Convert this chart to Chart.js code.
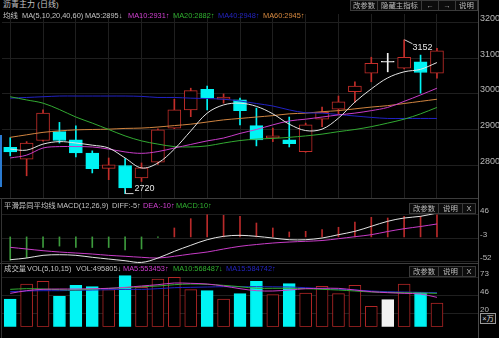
<!DOCTYPE html>
<html>
<head>
<meta charset="utf-8">
<script src="https://cdn.jsdelivr.net/npm/chart.js@4.4.1/dist/chart.umd.min.js"></script>
<style>
body { margin: 0; width: 499px; height: 338px; background: #000; position: relative; overflow: hidden;
  font-family: "Liberation Sans", "Noto Sans CJK SC", sans-serif; color: #c4c4c4; }
canvas { position: absolute; left: 0; }
.t { position: absolute; font-size: 7.4px; line-height: 10px; white-space: nowrap; }
.btn { position: absolute; line-height: 10px; font-size: 7.4px; text-align: center;
  border: 1px solid #3a3a3a; background: #0c0c0c; color: #bdbdbd; box-sizing: border-box; height: 11px; }
.hl { position: absolute; left: 0; width: 478px; height: 1px; background: #3c3c3c; }
.vl { position: absolute; width: 1px; background: #4a4a4a; }
</style>
</head>
<body>
<canvas id="main" width="499" height="184" style="top:14px"></canvas>
<canvas id="macd" width="499" height="64" style="top:199px"></canvas>
<canvas id="vol" width="499" height="74" style="top:264px"></canvas>

<div class="hl" style="top:198px"></div>
<div class="hl" style="top:263px"></div>
<div class="vl" style="left:478px;top:0;height:338px"></div>
<div class="vl" style="left:1px;top:198px;height:140px;background:#333"></div>
<div style="position:absolute;left:0;top:135px;width:2px;height:52px;background:#2a7ad0"></div>

<!-- main panel header -->
<div class="t" style="left:3px;top:0px;font-size:8px">沥青主力 (日线)</div>
<div class="t" style="left:3px;top:11px">均线</div>
<div class="t" style="left:22px;top:11px">MA(5,10,20,40,60)</div>
<div class="t" style="left:85px;top:11px">MA5:2895↓</div>
<div class="t" style="left:128px;top:11px;color:#d040d0">MA10:2931↑</div>
<div class="t" style="left:173px;top:11px;color:#30b030">MA20:2882↑</div>
<div class="t" style="left:218px;top:11px;color:#2424c0">MA40:2948↑</div>
<div class="t" style="left:263px;top:11px;color:#d88a40">MA60:2945↑</div>
<div class="btn" style="left:350px;top:0;width:28px">改参数</div>
<div class="btn" style="left:377px;top:0;width:45px">隐藏主指标</div>
<div class="btn" style="left:421px;top:0;width:18px">←</div>
<div class="btn" style="left:438px;top:0;width:18px">→</div>
<div class="btn" style="left:455px;top:0;width:23px">说明</div>

<!-- MACD header -->
<div class="t" style="left:4px;top:201px">平滑异同平均线</div>
<div class="t" style="left:57px;top:201px">MACD(12,26,9)</div>
<div class="t" style="left:112px;top:201px">DIFF:-5↑</div>
<div class="t" style="left:143px;top:201px;color:#d040d0">DEA:-10↑</div>
<div class="t" style="left:176px;top:201px;color:#30b030">MACD:10↑</div>
<div class="btn" style="left:409px;top:203px;width:30px">改参数</div>
<div class="btn" style="left:438px;top:203px;width:25px">说明</div>
<div class="btn" style="left:462px;top:203px;width:14px">X</div>

<!-- volume header -->
<div class="t" style="left:4px;top:264px">成交量</div>
<div class="t" style="left:27px;top:264px">VOL(5,10,15)</div>
<div class="t" style="left:76px;top:264px">VOL:495805↓</div>
<div class="t" style="left:123px;top:264px;color:#d040d0">MA5:553453↑</div>
<div class="t" style="left:173px;top:264px;color:#30b030">MA10:568487↓</div>
<div class="t" style="left:226px;top:264px;color:#2424c0">MA15:584742↑</div>
<div class="btn" style="left:409px;top:266px;width:30px">改参数</div>
<div class="btn" style="left:438px;top:266px;width:25px">说明</div>
<div class="btn" style="left:462px;top:266px;width:14px">X</div>
<div class="btn" style="left:480px;top:313px;width:16px;border-color:#9a9a9a;color:#ddd">×万</div>

<script>
// session dates (only every second one is printed)
const dateLabels = ['0331', '', '02', '', '07', '', '09', '', '13', '', '15', '', '19', '', '21', '', '23', '', '27', '', '29', '', '06', '', '10', '', '12']

// daily prices
const opens  = [2850, 2817, 2869, 2894, 2871, 2834, 2791, 2799, 2764, 2808, 2904, 2955, 3013, 2985, 2983, 2911, 2876, 2871, 2838, 2929, 2957, 3006, 3058, 3089, 3072, 3090, 3058]
const highs  = [2877, 2866, 2955, 2920, 2910, 2840, 2820, 2818, 2806, 2902, 2985, 3016, 3022, 3000, 2988, 2960, 2904, 2935, 2918, 2963, 2994, 3034, 3103, 3114, 3152, 3109, 3128]
const lows   = [2826, 2770, 2867, 2862, 2823, 2778, 2759, 2720, 2754, 2802, 2902, 2936, 2955, 2974, 2913, 2854, 2866, 2851, 2836, 2908, 2944, 2976, 3034, 3062, 3070, 3002, 3044]
const closes = [2837, 2862, 2946, 2869, 2834, 2790, 2801, 2736, 2792, 2899, 2955, 3009, 2989, 2991, 2953, 2871, 2882, 2860, 2913, 2948, 2978, 3022, 3086, 3089, 3103, 3060, 3121]

// moving averages of close
const ma5  = [2845, 2842, 2859, 2866, 2862, 2856, 2848, 2820, 2792, 2806, 2845, 2896, 2946, 2969, 2974, 2965, 2944, 2915, 2897, 2901, 2932, 2977, 3014, 3045, 3062, 3069, 3088]
const ma10 = [2820, 2828, 2848, 2852, 2852, 2851, 2845, 2837, 2833, 2838, 2848, 2858, 2868, 2876, 2889, 2900, 2913, 2924, 2929, 2935, 2941, 2946, 2953, 2962, 2979, 2997, 3016]
const ma20 = [2992, 2983, 2974, 2956, 2935, 2918, 2900, 2882, 2868, 2859, 2852, 2851, 2854, 2862, 2869, 2873, 2875, 2878, 2882, 2887, 2894, 2900, 2908, 2918, 2929, 2944, 2962]
const ma40 = [2988, 2990, 2992, 2994, 2994, 2994, 2994, 2994, 2993, 2990, 2990, 2988, 2987, 2985, 2980, 2973, 2966, 2955, 2947, 2946, 2942, 2938, 2934, 2931, 2931, 2931, 2931]
const ma60 = [2878, 2885, 2892, 2896, 2899, 2900, 2901, 2903, 2904, 2907, 2911, 2915, 2921, 2927, 2931, 2935, 2939, 2944, 2946, 2950, 2953, 2958, 2963, 2967, 2973, 2979, 2985]

// MACD(12,26,9)
const diff = [-47.3, -43.8, -38.2, -36.9, -38.2, -42.3, -45.9, -49.4, -53, -43.8, -29.9, -17.4, -5.8, 1.2, 3.3, 1.2, -2.3, -5.8, -5.8, -2.3, 4.6, 11.6, 22, 32.4, 39.2, 42.7, 49.6]
const dea  = [-21.6, -25.1, -28.6, -31.3, -33.4, -35.5, -38.2, -40.2, -42.3, -43.8, -40.2, -35.5, -31.3, -25.1, -19.5, -15.8, -12.7, -10.6, -9.1, -7.5, -3.7, 0.4, 4.6, 11.2, 17, 21.6, 26.8]
const macd = [-48, -43, -22, -19, -22, -22, -22, -27, -25, -1, 18.5, 37.8, 46, 44.8, 42.7, 28.8, 18.5, 10.2, 11.6, 15, 20, 31, 40.7, 39.2, 42.7, 42.7, 46]

// volume in units of 10k
const vol = [41.5, 64, 68, 45.6, 62, 60, 55.5, 76.5, 59, 71.5, 74, 55.5, 54, 41.5, 49.5, 68, 48, 64.5, 50.5, 60.5, 49.5, 62, 30.6, 40.5, 64, 51.6, 35.5]
const volMa5  = [50, 54, 56, 56.5, 56.5, 57, 57.5, 59, 61, 63, 65.5, 65, 64, 61, 57, 54, 53.5, 55, 57, 57.5, 57.5, 55, 52.5, 51, 50, 49, 44]
const volMa10 = [56, 57, 56.5, 55.5, 55, 56.5, 57.5, 58.5, 60, 61, 63, 64, 63.5, 62, 60, 57.6, 57.6, 57.6, 57, 56, 55, 53.5, 52, 51.5, 51, 50.5, 50]
const volMa15 = [52.5, 53.5, 54, 54, 54.5, 55, 55.5, 56, 56, 57, 58.5, 59, 59.5, 60, 60, 60, 59.8, 59.5, 58.5, 57, 56, 55, 53.5, 52.5, 52, 51.5, 51]

const RED = '#c42e2a'
const CYAN = '#00f4f4'
const WHITE = '#f2f2f2'
const GRID = '#1f1f1f'
const LABEL = '#b8b8b8'
const FONT = '"Liberation Sans", sans-serif'

// two empty slots are left at the right edge
const slots = dateLabels.concat(['', ''])

const candleColor = opens.map((o, i) => closes[i] > o ? RED : closes[i] < o ? CYAN : WHITE)
const bodyFill = candleColor.map(c => c === RED ? '#000' : c)
const bodies = opens.map((o, i) => [o, closes[i]])
const wicks = lows.map((l, i) => [l, highs[i]])

function line(data, color) {
	return {
		type: 'line',
		data,
		borderColor: color,
		borderWidth: 1,
		pointRadius: 0,
		tension: 0.35
	}
}

// fixed-width price axis on the right, no extra padding around the plot
function rightAxis(min, max, ticks, size, fmt) {
	return {
		position: 'right',
		min,
		max,
		afterBuildTicks: s => { s.ticks = ticks.map(v => ({ value: v })) },
		afterFit: s => { s.width = 21; s.paddingTop = 0; s.paddingBottom = 0 },
		ticks: {
			color: LABEL,
			font: { family: FONT, size },
			padding: 2,
			labelOffset: -4,
			callback: fmt || (v => v)
		},
		grid: { color: GRID, drawTicks: false },
		border: { display: false }
	}
}

const base = {
	responsive: false,
	animation: false,
	events: [],
	layout: { padding: { left: 2, right: 0, top: 0, bottom: 0 } },
	plugins: { legend: { display: false }, tooltip: { enabled: false } }
}

// labels for the highest high and lowest low
const extremes = {
	id: 'extremes',
	afterDatasetsDraw(chart) {
		const { ctx, scales: { x, y } } = chart
		const hi = highs.indexOf(Math.max(...highs))
		const lo = lows.indexOf(Math.min(...lows))
		ctx.save()
		ctx.strokeStyle = '#cfcfcf'
		ctx.fillStyle = '#e6e6e6'
		ctx.lineWidth = 1
		ctx.font = '9px ' + FONT
		ctx.textBaseline = 'middle'

		let px = Math.round(x.getPixelForValue(hi)) + 0.5
		let py = y.getPixelForValue(highs[hi])
		ctx.beginPath()
		ctx.moveTo(px, py)
		ctx.lineTo(px + 8, py + 4)
		ctx.stroke()
		ctx.fillText(String(highs[hi]), px + 8, py + 8)

		px = Math.round(x.getPixelForValue(lo)) + 0.5
		py = y.getPixelForValue(lows[lo])
		ctx.beginPath()
		ctx.moveTo(px, py - 4)
		ctx.lineTo(px, py)
		ctx.lineTo(px + 8, py)
		ctx.stroke()
		ctx.fillText(String(lows[lo]), px + 9, py - 5)
		ctx.restore()
	}
}

new Chart(document.getElementById('main'), {
	type: 'bar',
	data: {
		labels: slots,
		datasets: [
			line(ma5, '#e4e4e4'),
			line(ma10, '#c83cc8'),
			line(ma20, '#32aa32'),
			line(ma40, '#2222c4'),
			line(ma60, '#d08440'),
			{
				data: bodies,
				backgroundColor: bodyFill,
				borderColor: candleColor,
				borderWidth: 1,
				borderSkipped: false,
				barThickness: 13,
				minBarLength: 1,
				grouped: false
			},
			{
				data: wicks,
				backgroundColor: candleColor,
				barThickness: 1,
				grouped: false
			}
		]
	},
	options: {
		...base,
		scales: {
			x: {
				ticks: { display: false },
				afterFit: s => { s.height = 0; s.paddingLeft = 0; s.paddingRight = 0 },
				grid: {
					offset: false,
					drawTicks: false,
					color: c => (c.index % 2 === 0 && c.index < dateLabels.length) ? GRID : 'rgba(0,0,0,0)'
				},
				border: { display: false }
			},
			y: rightAxis(2707.6, 3224.4, [2800, 2900, 3000, 3100, 3200], 9)
		}
	},
	plugins: [extremes]
})

new Chart(document.getElementById('macd'), {
	type: 'bar',
	data: {
		labels: slots,
		datasets: [
			line(diff, '#e4e4e4'),
			line(dea, '#c83cc8'),
			{
				data: macd,
				backgroundColor: macd.map(v => v >= 0 ? '#b82a2a' : '#3c9a3c'),
				barThickness: 1
			}
		]
	},
	options: {
		...base,
		scales: {
			x: { display: false },
			y: rightAxis(-54.1, 78.6, [-52, -3, 46], 8)
		}
	}
})

new Chart(document.getElementById('vol'), {
	type: 'bar',
	data: {
		labels: slots,
		datasets: [
			line(volMa5, '#c83cc8'),
			line(volMa10, '#32aa32'),
			line(volMa15, '#2222c4'),
			{
				data: vol,
				backgroundColor: bodyFill,
				borderColor: candleColor.map(c => c === RED ? '#b02626' : c),
				borderWidth: 1,
				borderSkipped: false,
				barThickness: 12
			}
		]
	},
	options: {
		...base,
		scales: {
			x: {
				afterFit: s => { s.height = 11.3; s.paddingLeft = 0; s.paddingRight = 0 },
				ticks: {
					color: LABEL,
					font: { family: FONT, size: 8 },
					padding: 3,
					labelOffset: 2,
					autoSkip: false,
					maxRotation: 0
				},
				grid: { display: false },
				border: { display: false }
			},
			y: rightAxis(0, 94, [20, 140 / 3, 220 / 3], 8, v => Math.floor(v))
		}
	}
})
</script>
</body>
</html>
